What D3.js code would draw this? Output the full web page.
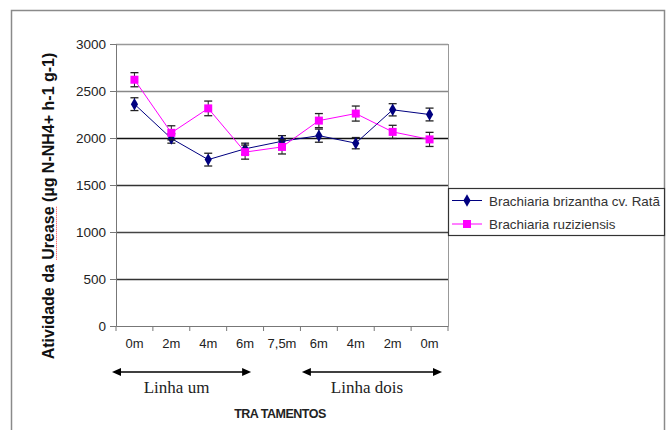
<!DOCTYPE html>
<html>
<head>
<meta charset="utf-8">
<script src="https://cdn.jsdelivr.net/npm/d3@7"></script>
<style>
  html, body { margin: 0; padding: 0; background: #fff; }
  svg { display: block; font-family: "Liberation Sans", Arial, sans-serif; }
  .tick-label { font-size: 13px; fill: #222; }
  .legend-label { font-size: 13.4px; fill: #333; }
</style>
</head>
<body>
<script>
// data
const categories = ["0m", "2m", "4m", "6m", "7,5m", "6m ", "4m ", "2m ", "0m "];
const tickLabels = ["0m", "2m", "4m", "6m", "7,5m", "6m", "4m", "2m", "0m"];
const brizantha = [2360, 1995, 1770, 1885, 1965, 2025, 1945, 2300, 2250];
const brizanthaErr = [68, 50, 68, 60, 60, 70, 60, 65, 68];
const ruziziensis = [2620, 2055, 2315, 1850, 1905, 2185, 2260, 2065, 1985];
const ruziziensisErr = [75, 75, 78, 75, 75, 75, 80, 70, 75];
const yTicks = [0, 500, 1000, 1500, 2000, 2500, 3000];
const gridColors = ["#999", "#888", "#111", "#333", "#444", "#333"];
const seriesNames = ["Brachiaria brizantha cv. Ratã", "Brachiaria ruziziensis"];

const width = 671, height = 430;
const plot = { left: 116, right: 448, top: 44, bottom: 326 };

const svg = d3.select("body").append("svg")
  .attr("width", width)
  .attr("height", height);

// outer frame
svg.append("rect")
  .attr("x", 11.5).attr("y", 10.5)
  .attr("width", 653).attr("height", 430)
  .attr("fill", "none").attr("stroke", "#8a8a8a").attr("stroke-width", 1.5);

const x = d3.scaleBand().domain(categories).range([plot.left, plot.right]);
const y = d3.scaleLinear().domain([0, 3000]).range([plot.bottom, plot.top]);
const cx = i => x(categories[i]) + x.bandwidth() / 2;

// gridlines
svg.append("g")
  .selectAll("line")
  .data(yTicks.slice(1))
  .join("line")
  .attr("x1", plot.left).attr("x2", plot.right)
  .attr("y1", d => Math.round(y(d)) + 0.5).attr("y2", d => Math.round(y(d)) + 0.5)
  .attr("stroke", (d, i) => gridColors[gridColors.length - 1 - i])
  .attr("stroke-width", 1.3);

// right plot border
svg.append("line")
  .attr("x1", plot.right + 0.5).attr("x2", plot.right + 0.5)
  .attr("y1", plot.top).attr("y2", plot.bottom)
  .attr("stroke", "#999");

// y axis
const yAxis = svg.append("g")
  .attr("transform", `translate(${plot.left},0)`)
  .call(d3.axisLeft(y).tickValues(yTicks).tickSize(6).tickPadding(4).tickFormat(d3.format("d")));
yAxis.select(".domain").attr("stroke", "#777");
yAxis.selectAll(".tick line").attr("stroke", "#777");
yAxis.selectAll("text").attr("class", "tick-label").attr("fill", null).style("font-size", "13.5px");

// x axis
const xAxis = svg.append("g")
  .attr("transform", `translate(0,${plot.bottom})`)
  .call(d3.axisBottom(x).tickSize(0).tickPadding(13).tickFormat((d, i) => tickLabels[i]));
xAxis.select(".domain").attr("stroke", "#777");
xAxis.selectAll("text").attr("class", "tick-label").attr("fill", null);
svg.append("g")
  .selectAll("line")
  .data(d3.range(categories.length + 1))
  .join("line")
  .attr("x1", i => plot.left + i * x.bandwidth()).attr("x2", i => plot.left + i * x.bandwidth())
  .attr("y1", plot.bottom).attr("y2", plot.bottom + 5)
  .attr("stroke", "#777");

// series
const series = [
  { name: seriesNames[0], values: brizantha, err: brizanthaErr, color: "#000080", shape: d3.symbolDiamond, size: 45 },
  { name: seriesNames[1], values: ruziziensis, err: ruziziensisErr, color: "#ff00ff", shape: d3.symbolSquare, size: 64 }
];

const line = d3.line().x((d, i) => cx(i)).y(d => y(d));

series.forEach(s => {
  const g = svg.append("g");
  g.append("path")
    .datum(s.values)
    .attr("d", line)
    .attr("fill", "none")
    .attr("stroke", s.color)
    .attr("stroke-width", 1);
  const eb = g.selectAll(".err").data(s.values).join("g");
  eb.append("line")
    .attr("x1", (d, i) => cx(i)).attr("x2", (d, i) => cx(i))
    .attr("y1", (d, i) => y(d - s.err[i])).attr("y2", (d, i) => y(d + s.err[i]))
    .attr("stroke", "#222");
  [-1, 1].forEach(sign => {
    eb.append("line")
      .attr("x1", (d, i) => cx(i) - 4).attr("x2", (d, i) => cx(i) + 4)
      .attr("y1", (d, i) => y(d + sign * s.err[i])).attr("y2", (d, i) => y(d + sign * s.err[i]))
      .attr("stroke", "#222").attr("stroke-width", 1.3);
  });
  g.selectAll(".mark").data(s.values).join("path")
    .attr("transform", (d, i) => `translate(${cx(i)},${y(d)})`)
    .attr("d", d3.symbol(s.shape, s.size))
    .attr("fill", s.color);
});

// legend
const legend = svg.append("g");
legend.append("rect")
  .attr("x", plot.right + 0.5).attr("y", 188.5)
  .attr("width", 216).attr("height", 47)
  .attr("fill", "#fff").attr("stroke", "#333").attr("stroke-width", 1.2);
series.forEach((s, i) => {
  const ly = 200.5 + i * 23.5;
  legend.append("line")
    .attr("x1", plot.right + 4).attr("x2", plot.right + 34)
    .attr("y1", ly).attr("y2", ly)
    .attr("stroke", s.color);
  legend.append("path")
    .attr("transform", `translate(${plot.right + 19},${ly})`)
    .attr("d", d3.symbol(s.shape, s.size))
    .attr("fill", s.color);
  legend.append("text")
    .attr("class", "legend-label")
    .attr("x", plot.right + 41).attr("y", ly + 5)
    .text(s.name);
});

// y title
const yTitle = svg.append("text")
  .attr("transform", "translate(54,206) rotate(-90)")
  .attr("text-anchor", "middle")
  .attr("font-size", 16)
  .attr("font-weight", "bold")
  .attr("fill", "#111")
  .text("Atividade da Urease (µg N-NH4+ h-1 g-1)");
// spell-check underline under "Urease"
{
  const node = yTitle.node();
  const full = node.textContent;
  const total = node.getComputedTextLength();
  const start = node.getSubStringLength(0, full.indexOf("Urease"));
  const len = node.getSubStringLength(full.indexOf("Urease"), 6);
  const y0 = 206 + total / 2 - start;
  svg.append("line")
    .attr("x1", 56.5).attr("x2", 56.5)
    .attr("y1", y0).attr("y2", y0 - len)
    .attr("stroke", "#ff3b3b").attr("stroke-width", 1)
    .attr("stroke-dasharray", "1,1");
}

// bottom annotations
const arrowY = 372;
const arrows = [
  { x1: plot.left - 4, x2: cx(3) + 6, label: "Linha um" },
  { x1: cx(5) - 17, x2: plot.right - 6, label: "Linha dois" }
];
arrows.forEach(a => {
  svg.append("line")
    .attr("x1", a.x1 + 6).attr("x2", a.x2 - 6)
    .attr("y1", arrowY).attr("y2", arrowY)
    .attr("stroke", "#000").attr("stroke-width", 1.5);
  svg.append("path")
    .attr("d", `M${a.x1},${arrowY} L${a.x1 + 9},${arrowY - 4} L${a.x1 + 9},${arrowY + 4} Z`)
    .attr("fill", "#000");
  svg.append("path")
    .attr("d", `M${a.x2},${arrowY} L${a.x2 - 9},${arrowY - 4} L${a.x2 - 9},${arrowY + 4} Z`)
    .attr("fill", "#000");
  svg.append("text")
    .attr("x", (a.x1 + a.x2) / 2 - 5).attr("y", 393)
    .attr("text-anchor", "middle")
    .attr("font-family", "'Liberation Serif', 'Times New Roman', serif")
    .attr("font-size", 17)
    .attr("fill", "#222")
    .text(a.label);
});

svg.append("text")
  .attr("x", 280).attr("y", 418)
  .attr("text-anchor", "middle")
  .attr("font-size", 12.5)
  .attr("font-weight", "bold")
  .attr("letter-spacing", -0.5)
  .attr("fill", "#222")
  .text("TRA TAMENTOS");
</script>
</body>
</html>
